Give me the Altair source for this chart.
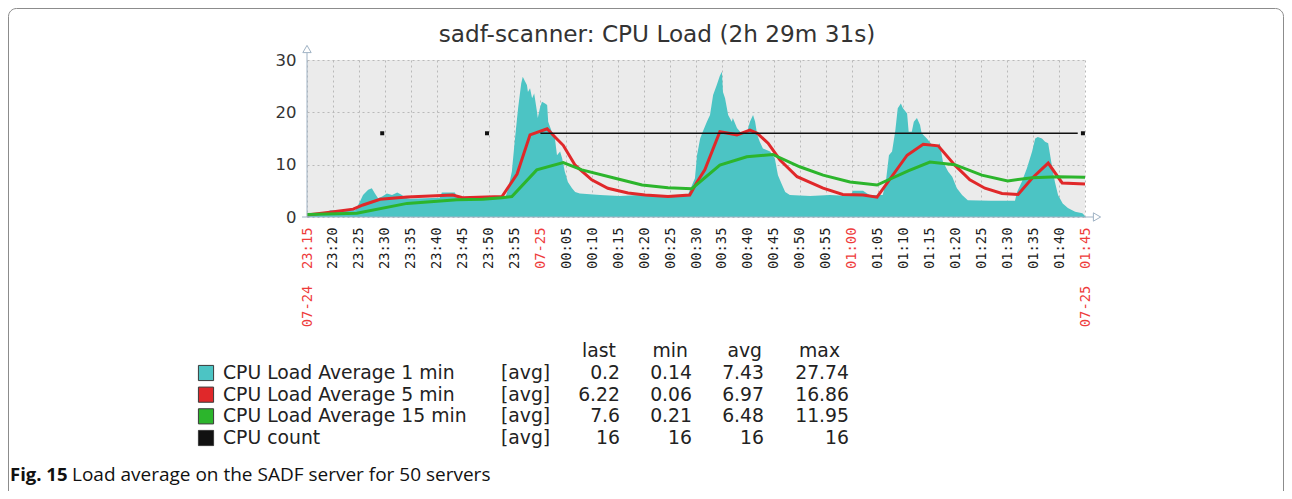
import json
import altair as alt
import pandas as pd

# ---------------- data (minutes after 07-24 23:15) ----------------
load1_t = [0.0, 4.0, 4.4, 9.3, 10.2, 10.8, 11.8, 12.5, 13.1, 13.7, 14.5, 15.4, 16.4, 17.4, 18.3,
           18.9, 19.9, 25.6, 26.0, 28.5, 28.9, 29.5, 36.2, 38.2, 38.8, 39.5, 40.1, 40.7, 41.3, 41.6,
           42.0, 42.4, 42.6, 43.0, 43.4, 43.8, 44.3, 44.5, 44.9, 45.3, 45.9, 46.3, 46.5, 47.2, 47.8,
           48.2, 48.8, 49.2, 49.7, 50.3, 51.1, 51.7, 52.6, 56.5, 60.3, 64.2, 68.1, 71.9, 73.5, 74.2,
           74.8, 75.2, 75.8, 76.3, 77.1, 77.7, 78.3, 79.0, 79.6, 80.0, 80.2, 80.6, 81.2, 81.9, 82.1,
           82.9, 83.5, 84.1, 84.8, 85.4, 86.0, 86.4, 86.8, 87.3, 87.9, 89.3, 90.2, 90.8, 91.6, 92.2,
           93.1, 97.0, 100.8, 104.7, 105.3, 107.2, 108.0, 108.5, 111.0, 111.6, 112.2, 112.8, 113.4,
           113.9, 114.5, 114.9, 115.7, 116.0, 116.6, 117.0, 117.6, 118.2, 118.5, 119.5, 120.5, 121.5,
           122.0, 122.6, 123.6, 124.4, 125.3, 126.3, 127.4, 131.7, 136.5, 136.9, 137.8, 138.8, 139.8,
           140.4, 140.9, 141.7, 142.3, 142.9, 143.6, 144.2, 144.8, 145.7, 146.7, 148.1, 149.5, 150.0]
load1_v = [0.5, 0.6, 1.3, 1.3, 2.9, 4.2, 5.2, 5.5, 4.5, 3.6, 3.9, 4.5, 4.2, 4.7, 4.2,
           3.7, 3.5, 3.7, 4.7, 4.7, 3.9, 3.5, 3.6, 3.6, 5.5, 8.7, 15.0, 20.8, 25.5, 26.8,
           26.0, 25.2, 23.9, 24.6, 22.7, 23.6, 20.4, 18.9, 20.8, 22.0, 21.7, 21.4, 18.2, 16.3, 15.0,
           11.8, 12.5, 11.2, 8.7, 6.7, 5.5, 4.8, 4.5, 4.2, 4.0, 4.2, 3.9, 3.9, 4.4, 6.0,
           7.4, 11.8, 15.0, 16.3, 18.2, 19.5, 23.3, 25.2, 27.0, 27.74, 23.9, 22.7, 19.5, 18.2, 18.9,
           17.0, 16.3, 16.0, 16.0, 18.2, 19.5, 18.2, 15.7, 14.4, 13.1, 12.5, 11.2, 8.0, 6.1, 4.8,
           4.2, 4.0, 4.2, 4.0, 5.0, 5.0, 4.5, 4.2, 4.2, 6.7, 11.8, 12.5, 16.3,
           20.8, 21.7, 20.8, 19.8, 16.3, 16.3, 18.2, 18.9, 17.6, 16.0, 15.0, 13.8, 13.4,
           14.1, 10.6, 8.7, 7.7, 5.5, 4.2, 3.2, 3.1, 3.1, 4.8, 6.7, 9.3, 12.5,
           15.0, 15.3, 15.0, 14.4, 14.1, 9.9, 6.7, 4.2, 2.6, 1.7, 1.0, 0.7, 0.2]

load5_t = [0.0, 4.4, 8.9, 10.8, 14.1, 19.3, 28.1, 30.0, 37.6, 40.5, 43.0, 46.3, 47.8, 49.4, 51.7,
           54.9, 58.0, 61.9, 65.2, 69.6, 73.8, 75.2, 76.7, 79.6, 82.9, 85.4, 86.8, 88.9, 91.2, 94.5,
           99.5, 103.3, 107.2, 109.9, 115.7, 118.8, 121.7, 124.9, 127.8, 130.7, 134.0, 137.1, 139.8,
           142.9, 145.6, 150.0]
load5_v = [0.4, 0.9, 1.5, 2.3, 3.4, 3.8, 4.2, 3.7, 3.9, 8.2, 15.7, 16.86, 15.3, 13.7, 9.9,
           7.1, 5.5, 4.6, 4.2, 3.9, 4.2, 6.7, 9.0, 16.3, 15.7, 16.6, 16.0, 14.1, 10.9, 7.7,
           5.5, 4.3, 4.2, 3.8, 11.8, 13.9, 13.6, 9.9, 7.1, 5.5, 4.5, 4.3, 7.4,
           10.3, 6.5, 6.3]

load15_t = [0.0, 9.6, 19.3, 25.1, 28.9, 33.9, 37.6, 39.5, 44.3, 49.4, 53.0, 59.4, 64.6, 69.6, 74.2,
            79.6, 84.8, 89.8, 95.0, 99.5, 104.7, 109.9, 115.9, 120.1, 124.9, 130.1, 135.1, 139.8,
            144.8, 150.0]
load15_v = [0.5, 0.7, 2.6, 3.0, 3.3, 3.4, 3.7, 3.9, 9.0, 10.4, 9.0, 7.4, 6.1, 5.6, 5.4,
            9.9, 11.5, 11.95, 9.6, 8.0, 6.7, 6.1, 8.8, 10.5, 10.0, 8.0, 6.9, 7.5,
            7.7, 7.6]

cpu_line_t = [45.0, 148.6]
cpu_line_v = [16, 16]
cpu_dot_t = [14.5, 34.7, 149.6]
cpu_dot_v = [16, 16, 16]

NB = "\u00a0"
tick_minutes = list(range(0, 151, 5))
tick_labels = ["07-24" + NB + NB + "23:15", "23:20", "23:25", "23:30", "23:35", "23:40", "23:45",
               "23:50", "23:55", "07-25", "00:05", "00:10", "00:15", "00:20", "00:25", "00:30",
               "00:35", "00:40", "00:45", "00:50", "00:55", "01:00", "01:05", "01:10", "01:15",
               "01:20", "01:25", "01:30", "01:35", "01:40", "07-25" + NB + NB + "01:45"]
red_ticks = [0, 45, 105, 150]
y_ticks = [0, 10, 20, 30]

legend_names = ["CPU Load Average 1 min", "CPU Load Average 5 min",
                "CPU Load Average 15 min", "CPU count"]
legend_fn = ["[avg]", "[avg]", "[avg]", "[avg]"]
legend_last = ["0.2", "6.22", "7.6", "16"]
legend_min = ["0.14", "0.06", "0.21", "16"]
legend_avg = ["7.43", "6.97", "6.48", "16"]
legend_max = ["27.74", "16.86", "11.95", "16"]
stat_headers = ["last", "min", "avg", "max"]

title_text = "sadf-scanner: CPU Load (2h 29m 31s)"
caption_bold = "Fig. 15"
caption_text = "Load average on the SADF server for 50 servers"

# ---------------- style ----------------
TEAL = "#4cc4c4"
RED = "#e0282a"
GREEN = "#2cb52c"
BLACK = "#111111"
AXIS = "#9fb2c4"
GRID = "#b9b9b9"
TEXT = "#222222"
RED_LABEL = "#ee3b3b"
legend_colors = [TEAL, RED, GREEN, BLACK]

W, H = 778, 157

xs = alt.Scale(domain=[0, 150], nice=False, zero=False)
ys = alt.Scale(domain=[0, 30], nice=False)

label_expr = json.dumps(tick_labels, ensure_ascii=False) + "[round(datum.value / 5)]"
red_test = " || ".join(f"datum.value == {m}" for m in red_ticks)

x_axis = alt.Axis(values=tick_minutes, labelExpr=label_expr, labelAngle=270, labelAlign="right",
                  labelBaseline="middle", labelFont="DejaVu Sans Mono", labelFontSize=13.8,
                  labelColor={"condition": {"test": red_test, "value": RED_LABEL}, "value": "#1a1a1a"},
                  labelPadding=10, labelOverlap=False, labelFlush=False, labelBound=False,
                  ticks=False, domain=False, grid=True, gridColor=GRID, gridDash=[2, 3],
                  gridWidth=1, title=None)
y_axis = alt.Axis(values=y_ticks, labelFont="DejaVu Sans", labelFontSize=16.5, labelColor="#333333",
                  labelPadding=11, ticks=False, domain=False, grid=True, gridColor=GRID,
                  gridDash=[2, 3], gridWidth=1, title=None)

df1 = pd.DataFrame({"t": load1_t, "v": load1_v})
df5 = pd.DataFrame({"t": load5_t, "v": load5_v})
df15 = pd.DataFrame({"t": load15_t, "v": load15_v})
dfc = pd.DataFrame({"t": cpu_line_t, "v": cpu_line_v})
dfd = pd.DataFrame({"t": cpu_dot_t, "v": cpu_dot_v})

X = alt.X("t:Q", scale=xs, axis=x_axis)
Y = alt.Y("v:Q", scale=ys, axis=y_axis)

area = alt.Chart(df1).mark_area(color=TEAL, opacity=1).encode(x=X, y=Y)
line5 = alt.Chart(df5).mark_line(color=RED, strokeWidth=3).encode(x=X, y=Y)
line15 = alt.Chart(df15).mark_line(color=GREEN, strokeWidth=3).encode(x=X, y=Y)
cpu = alt.Chart(dfc).mark_line(color=BLACK, strokeWidth=1.4).encode(x=X, y=Y)
dots = alt.Chart(dfd).mark_square(color=BLACK, size=16, opacity=1).encode(x=X, y=Y)

one = pd.DataFrame({"k": [0]})
yline = alt.Chart(one).mark_rule(color=AXIS, strokeWidth=1).encode(
    x=alt.value(0), y=alt.value(H), y2=alt.value(-7))
yarrow = alt.Chart(one).mark_point(shape="triangle-up", filled=False, color=AXIS, size=70,
                                   strokeWidth=1, opacity=1).encode(x=alt.value(0), y=alt.value(-11))
xline = alt.Chart(one).mark_rule(color=AXIS, strokeWidth=1).encode(
    x=alt.value(-5), x2=alt.value(786), y=alt.value(H))
xarrow = alt.Chart(one).mark_point(shape="triangle-right", filled=False, color=AXIS, size=70,
                                   strokeWidth=1, opacity=1).encode(x=alt.value(790), y=alt.value(H))

title = alt.Chart(pd.DataFrame({"s": [title_text]})).mark_text(
    font="DejaVu Sans", fontSize=23.2, color="#333333", align="center", baseline="alphabetic"
).encode(x=alt.value(350), y=alt.value(-18), text="s:N")

cap1 = alt.Chart(pd.DataFrame({"s": [caption_bold]})).mark_text(
    font="Open Sans", fontSize=18.5, fontWeight="bold", color="#111111", align="left",
    baseline="alphabetic").encode(x=alt.value(-297), y=alt.value(421), text="s:N")
cap2 = alt.Chart(pd.DataFrame({"s": [caption_text]})).mark_text(
    font="Open Sans", fontSize=19, color="#111111", align="left",
    baseline="alphabetic").encode(x=alt.value(-235), y=alt.value(421), text="s:N")

frame = alt.Chart(one).mark_rect(fillOpacity=0, stroke="#8c8c8c", strokeWidth=1, cornerRadius=8).encode(
    x=alt.value(-298.5), x2=alt.value(976.5), y=alt.value(-51.5), y2=alt.value(470))

main = alt.layer(area, line5, line15, cpu, dots, yline, yarrow, xline, xarrow, title, cap1, cap2, frame)

# ---------------- legend table ----------------
leg = pd.DataFrame({"row": [0, 1, 2, 3], "name": legend_names, "fn": legend_fn,
                    "c_last": legend_last, "c_min": legend_min, "c_avg": legend_avg,
                    "c_max": legend_max})
LY = alt.Y("row:Q", scale=alt.Scale(domain=[0, 3], range=[313, 378], nice=False, zero=False), axis=None)
LFONT = dict(font="DejaVu Sans", fontSize=18.8, color=TEXT, baseline="middle")

sq = alt.Chart(leg).mark_square(size=230, opacity=1, stroke="#3a3a3a", strokeWidth=1, filled=True).encode(
    x=alt.value(-101), y=LY,
    color=alt.Color("name:N", scale=alt.Scale(domain=legend_names, range=legend_colors), legend=None))
names = alt.Chart(leg).mark_text(align="left", **LFONT).encode(x=alt.value(-84), y=LY, text="name:N")
fns = alt.Chart(leg).mark_text(align="left", **LFONT).encode(x=alt.value(194), y=LY, text="fn:N")

legend_layers = [sq, names, fns]
for field, head, xv, xh in [("c_last", stat_headers[0], 313, 309), ("c_min", stat_headers[1], 385, 381),
                            ("c_avg", stat_headers[2], 457, 455), ("c_max", stat_headers[3], 542, 533)]:
    legend_layers.append(alt.Chart(leg).mark_text(align="right", **LFONT).encode(
        x=alt.value(xv), y=LY, text=f"{field}:N"))
    legend_layers.append(alt.Chart(pd.DataFrame({"h": [head]})).mark_text(align="right", **LFONT).encode(
        x=alt.value(xh), y=alt.value(291), text="h:N"))

legend = alt.layer(*legend_layers)

chart = alt.layer(main, legend).resolve_scale(y="independent", color="independent").properties(
    width=W, height=H,
    autosize=alt.AutoSizeParams(type="none"),
    padding={"left": 299, "top": 52, "right": 199, "bottom": 274},
    background="white",
).configure_view(fill="#ebebeb", strokeWidth=0)

chart.save("out.html", embed_options={"renderer": "svg", "actions": False})
